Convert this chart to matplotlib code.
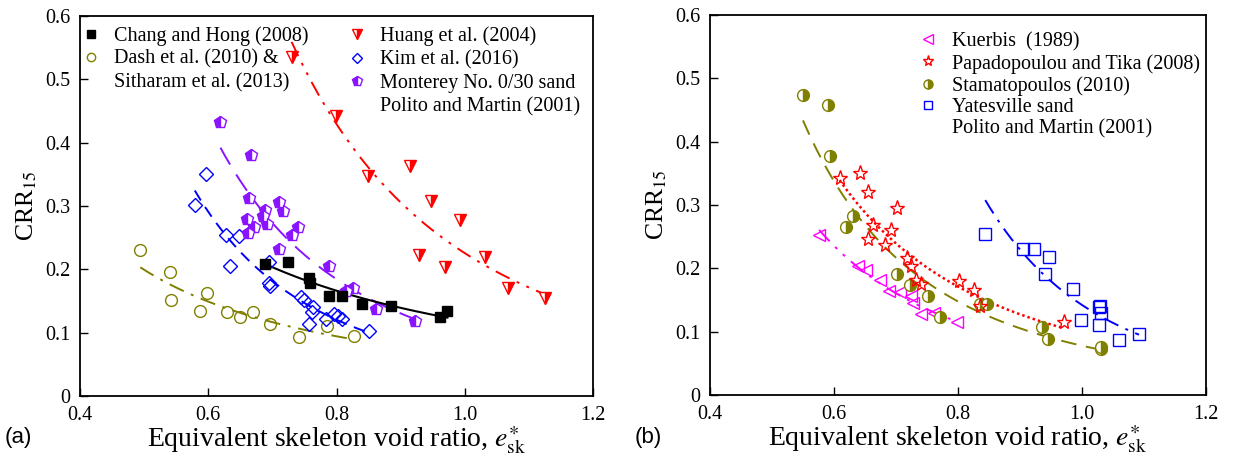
import numpy as np
import matplotlib
matplotlib.use("Agg")
import matplotlib.pyplot as plt
from matplotlib.lines import Line2D
from matplotlib.ticker import FixedLocator, FixedFormatter

plt.rcParams['font.family'] = ['Liberation Serif', 'DejaVu Serif']
plt.rcParams['mathtext.fontset'] = 'stix'

# ---------------- panel (a) data: equivalent skeleton void ratio vs CRR15 ----------------
chang_e = [0.689, 0.724, 0.757, 0.759, 0.789, 0.809, 0.840, 0.885, 0.962, 0.973]
chang_crr = [0.208, 0.211, 0.187, 0.178, 0.158, 0.158, 0.145, 0.142, 0.124, 0.134]

dash_e = [0.494, 0.540, 0.542, 0.598, 0.587, 0.629, 0.649, 0.670, 0.697, 0.742, 0.785, 0.827]
dash_crr = [0.230, 0.196, 0.151, 0.163, 0.134, 0.133, 0.124, 0.133, 0.114, 0.093, 0.110, 0.094]

huang_e = [0.730, 0.799, 0.914, 0.849, 0.948, 0.992, 0.928, 0.969, 1.032, 1.067, 1.125]
huang_crr = [0.535, 0.442, 0.363, 0.347, 0.308, 0.278, 0.222, 0.203, 0.220, 0.170, 0.154]

kim_e = [0.597, 0.579, 0.628, 0.648, 0.634, 0.695, 0.694, 0.697, 0.745, 0.750,
         0.763, 0.762, 0.757, 0.784, 0.796, 0.803, 0.808, 0.851]
kim_crr = [0.350, 0.302, 0.255, 0.253, 0.206, 0.211, 0.179, 0.174, 0.157, 0.152,
           0.141, 0.133, 0.113, 0.121, 0.129, 0.126, 0.122, 0.103]

monterey_e = [0.619, 0.667, 0.663, 0.711, 0.716, 0.689, 0.686, 0.660, 0.691, 0.672,
              0.740, 0.730, 0.662, 0.711, 0.788, 0.826, 0.815, 0.861, 0.923]
monterey_crr = [0.432, 0.380, 0.313, 0.306, 0.292, 0.294, 0.284, 0.280, 0.271, 0.267,
                0.267, 0.254, 0.258, 0.232, 0.205, 0.171, 0.166, 0.137, 0.118]

# ---------------- panel (b) data ----------------
kuerbis_e = [0.576, 0.638, 0.651, 0.674, 0.688, 0.707, 0.724, 0.728, 0.740, 0.762, 0.798]
kuerbis_crr = [0.252, 0.203, 0.197, 0.182, 0.165, 0.163, 0.156, 0.145, 0.128, 0.129, 0.116]

papa_e = [0.642, 0.609, 0.655, 0.701, 0.663, 0.692, 0.655, 0.682, 0.717, 0.724,
          0.732, 0.740, 0.802, 0.826, 0.836, 0.971]
papa_crr = [0.351, 0.342, 0.321, 0.296, 0.268, 0.261, 0.246, 0.237, 0.216, 0.203,
            0.182, 0.175, 0.180, 0.166, 0.141, 0.116]

stama_e = [0.550, 0.591, 0.593, 0.631, 0.620, 0.702, 0.723, 0.751, 0.771, 0.836,
           0.846, 0.936, 0.945, 1.030, 1.030]
stama_crr = [0.473, 0.458, 0.378, 0.283, 0.266, 0.191, 0.174, 0.157, 0.123, 0.144,
             0.144, 0.108, 0.088, 0.072, 0.076]

yates_e = [0.844, 0.905, 0.922, 0.947, 0.940, 0.986, 1.027, 1.029, 1.031, 0.999,
           1.028, 1.060, 1.092]
yates_crr = [0.255, 0.231, 0.231, 0.218, 0.191, 0.168, 0.139, 0.141, 0.129, 0.118,
             0.111, 0.087, 0.097]

x_ticks = [0.4, 0.6, 0.8, 1.0, 1.2]
x_tick_labels = ['0.4', '0.6', '0.8', '1.0', '1.2']
y_ticks = [0, 0.1, 0.2, 0.3, 0.4, 0.5, 0.6]
y_tick_labels = ['0', '0.1', '0.2', '0.3', '0.4', '0.5', '0.6']

OLIVE = '#808000'
PURPLE = '#8a14ff'
RED = '#ff0000'
BLUE = '#0000ff'
MAGENTA = '#ff00ff'

FS = 14.5


def power_fit(x, y):
    """Least-squares power law CRR = a * e^b over the range of the data."""
    x = np.asarray(x, float)
    y = np.asarray(y, float)
    b, ln_a = np.polyfit(np.log(x), np.log(y), 1)
    xs = np.linspace(x.min(), x.max(), 200)
    return xs, np.exp(ln_a) * xs ** b


def draw_series(ax, x, y, marker, color, ms, ls, lw=1.4, fill='none', mew=1.0):
    xs, ys = power_fit(x, y)
    ax.plot(xs, ys, color=color, ls=ls, lw=lw, zorder=2)
    if fill == 'none':
        kw = dict(markerfacecolor='none')
    elif fill == 'full':
        kw = dict(markerfacecolor=color)
    else:
        kw = dict(fillstyle=fill, markerfacecolor=color, markerfacecoloralt='white')
    ax.plot(x, y, ls='none', marker=marker, markersize=ms, markeredgecolor=color,
            markeredgewidth=mew, zorder=3, **kw)


def handle(marker, color, ms, fill='none'):
    if fill == 'none':
        kw = dict(markerfacecolor='none')
    elif fill == 'full':
        kw = dict(markerfacecolor=color)
    else:
        kw = dict(fillstyle=fill, markerfacecolor=color, markerfacecoloralt='white')
    return Line2D([], [], ls='none', marker=marker, markersize=ms,
                  markeredgecolor=color, markeredgewidth=1.0, **kw)


blank = Line2D([], [], ls='none')


def style_axes(ax):
    ax.set_xlim(0.4, 1.2)
    ax.set_ylim(0, 0.6)
    ax.xaxis.set_major_locator(FixedLocator(x_ticks))
    ax.xaxis.set_major_formatter(FixedFormatter(x_tick_labels))
    ax.yaxis.set_major_locator(FixedLocator(y_ticks))
    ax.yaxis.set_major_formatter(FixedFormatter(y_tick_labels))
    ax.tick_params(direction='in', length=6, width=1.0, labelsize=FS, pad=7)
    for s in ax.spines.values():
        s.set_linewidth(1.3)
    ax.set_xlabel(r'Equivalent skeleton void ratio, $\mathit{e}^{\ast}_{\mathrm{sk}}$',
                  fontsize=20, labelpad=0)
    ax.set_ylabel(r'CRR$_{15}$', fontsize=18.5, labelpad=4)


fig = plt.figure(figsize=(12.44, 4.57), dpi=100)
ax1 = fig.add_axes([80 / 1244, 61 / 457, 513 / 1244, 380 / 457])
ax2 = fig.add_axes([710 / 1244, 62 / 457, 496 / 1244, 380 / 457])

# ---- panel (a)
draw_series(ax1, dash_e, dash_crr, 'o', OLIVE, 8.5, (0, (8, 4, 1.5, 4)))
draw_series(ax1, kim_e, kim_crr, 'D', BLUE, 7.5, (0, (6, 4)))
draw_series(ax1, monterey_e, monterey_crr, 'p', PURPLE, 9, (0, (10, 6)), fill='left')
draw_series(ax1, huang_e, huang_crr, 'v', RED, 9, (0, (8, 4, 1.5, 4, 1.5, 4)), fill='right')
draw_series(ax1, chang_e, chang_crr, 's', 'black', 7.5, '-', lw=1.5, fill='full')
style_axes(ax1)

leg_kw = dict(frameon=False, fontsize=FS, handlelength=0.8, handletextpad=0.75,
              borderpad=0, borderaxespad=0, loc='upper left')
leg_a1 = ax1.legend([handle('s', 'black', 6, 'full'), handle('o', OLIVE, 6), blank],
                    ['Chang and Hong (2008)', 'Dash et al. (2010) &', 'Sitharam et al. (2013)'],
                    bbox_to_anchor=(0.006, 0.974), labelspacing=0.2, **leg_kw)
ax1.add_artist(leg_a1)
ax1.legend([handle('v', RED, 7, 'right'), handle('D', BLUE, 5.5),
            handle('p', PURPLE, 7, 'left'), blank],
           ['Huang et al. (2004)', 'Kim et al. (2016)', 'Monterey No. 0/30 sand',
            'Polito and Martin (2001)'],
           bbox_to_anchor=(0.524, 0.972), labelspacing=0.2, **leg_kw)

# ---- panel (b)
draw_series(ax2, kuerbis_e, kuerbis_crr, '<', MAGENTA, 9, (0, (8, 4, 1.5, 4, 1.5, 4)))
draw_series(ax2, stama_e, stama_crr, 'o', OLIVE, 8.5, (0, (8, 5)), fill='right')
draw_series(ax2, papa_e, papa_crr, '*', RED, 11, (0, (1, 1.2)), lw=1.8)
draw_series(ax2, yates_e, yates_crr, 's', BLUE, 8, (0, (8, 4, 1.5, 4)))
style_axes(ax2)

ax2.legend([handle('<', MAGENTA, 7), handle('*', RED, 8), handle('o', OLIVE, 6.5, 'right'),
            handle('s', BLUE, 5.5), blank],
           ['Kuerbis  (1989)', 'Papadopoulou and Tika (2008)', 'Stamatopoulos (2010)',
            'Yatesville sand', 'Polito and Martin (2001)'],
           bbox_to_anchor=(0.424, 0.955), labelspacing=0.12, **leg_kw)

fig.text(5 / 1244, 1 - 438 / 457, '(a)', family='Liberation Sans', fontsize=16, va='center')
fig.text(635 / 1244, 1 - 438 / 457, '(b)', family='Liberation Sans', fontsize=16, va='center')

fig.savefig('out.png', dpi=100)
